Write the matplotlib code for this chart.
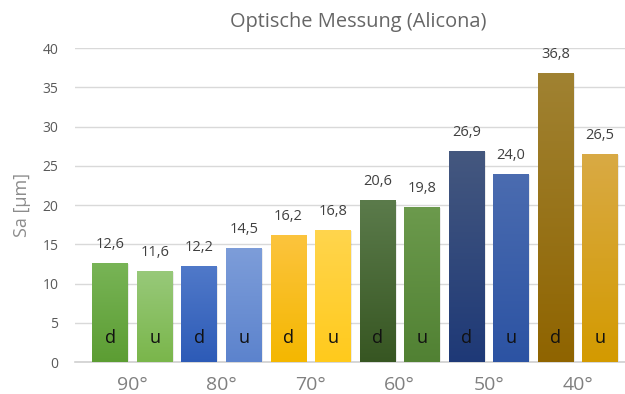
import numpy as np
import matplotlib
matplotlib.use("Agg")
import matplotlib.pyplot as plt
from matplotlib.colors import LinearSegmentedColormap

plt.rcParams['font.family'] = ['Open Sans', 'DejaVu Sans']

groups = ["90°", "80°", "70°", "60°", "50°", "40°"]
bar_tags = ["d", "u"] * 6
values = [12.6, 11.6, 12.2, 14.5, 16.2, 16.8, 20.6, 19.8, 26.9, 24.0, 36.8, 26.5]
value_labels = ["12,6", "11,6", "12,2", "14,5", "16,2", "16,8",
                "20,6", "19,8", "26,9", "24,0", "36,8", "26,5"]
# (top, bottom) gradient colours per bar
bar_colors = [
    ("#78b456", "#5c9d33"), ("#98c97a", "#7ab64b"),
    ("#5079c9", "#2d5bb7"), ("#7d9dd9", "#5c83cd"),
    ("#fcc43e", "#f4b700"), ("#ffd54d", "#ffca1c"),
    ("#5b7b4b", "#375622"), ("#6c9a4d", "#518133"),
    ("#45587f", "#1e3977"), ("#4b6cb0", "#2c53a3"),
    ("#a08232", "#8f6400"), ("#d9aa45", "#d39a00"),
]

fig = plt.figure(figsize=(6.25, 3.94), dpi=100)
ax = fig.add_axes([0.12, 0.081, 0.88, 0.797])

x = np.arange(len(values))
bars = ax.bar(x, values, width=0.8, color="none", edgecolor="none", zorder=3)

grad = np.linspace(0, 1, 256).reshape(-1, 1)
for rect, (top, bottom) in zip(bars, bar_colors):
    cmap = LinearSegmentedColormap.from_list("g", [bottom, top])
    x0, w, h = rect.get_x(), rect.get_width(), rect.get_height()
    # soft drop shadow
    ax.bar(x0 + w / 2 + 0.03, h, width=w, bottom=-0.15, color="#000000",
           alpha=0.08, zorder=2, edgecolor="none")
    im = ax.imshow(grad, extent=(x0, x0 + w, 0, h), origin="lower",
                   cmap=cmap, aspect="auto", zorder=3)
    im.set_clip_path(rect)

for xi, v, lab, tag in zip(x, values, value_labels, bar_tags):
    ax.text(xi, v + 1.4, lab, ha="center", va="bottom", fontsize=10.5,
            color="#404040", zorder=4)
    ax.text(xi, 3.1, tag, ha="center", va="center", fontsize=13,
            color="#111111", zorder=4)

ax.set_xlim(-0.79, 11.56)
ax.set_ylim(0, 40)
ax.set_yticks(np.arange(0, 41, 5))
ax.tick_params(axis="y", length=0, labelsize=10, labelcolor="#595959", pad=12)
ax.set_xticks([0.5 + 2 * i for i in range(len(groups))])
ax.set_xticklabels(groups)
ax.tick_params(axis="x", length=0, labelsize=14, labelcolor="#808080", pad=10)

ax.grid(axis="y", color="#d9d9d9", linewidth=1, zorder=0)
ax.set_axisbelow(True)
for side in ["top", "right", "left"]:
    ax.spines[side].set_visible(False)
ax.spines["bottom"].set_color("#d0d0d0")
ax.spines["bottom"].set_linewidth(1.2)

ax.set_ylabel("Sa [µm]", fontsize=13, color="#8c8c8c", labelpad=8)
fig.text(0.573, 0.943, "Optische Messung (Alicona)", ha="center", va="center",
         fontsize=14.4, color="#666666")

fig.savefig("out.png", dpi=100)
